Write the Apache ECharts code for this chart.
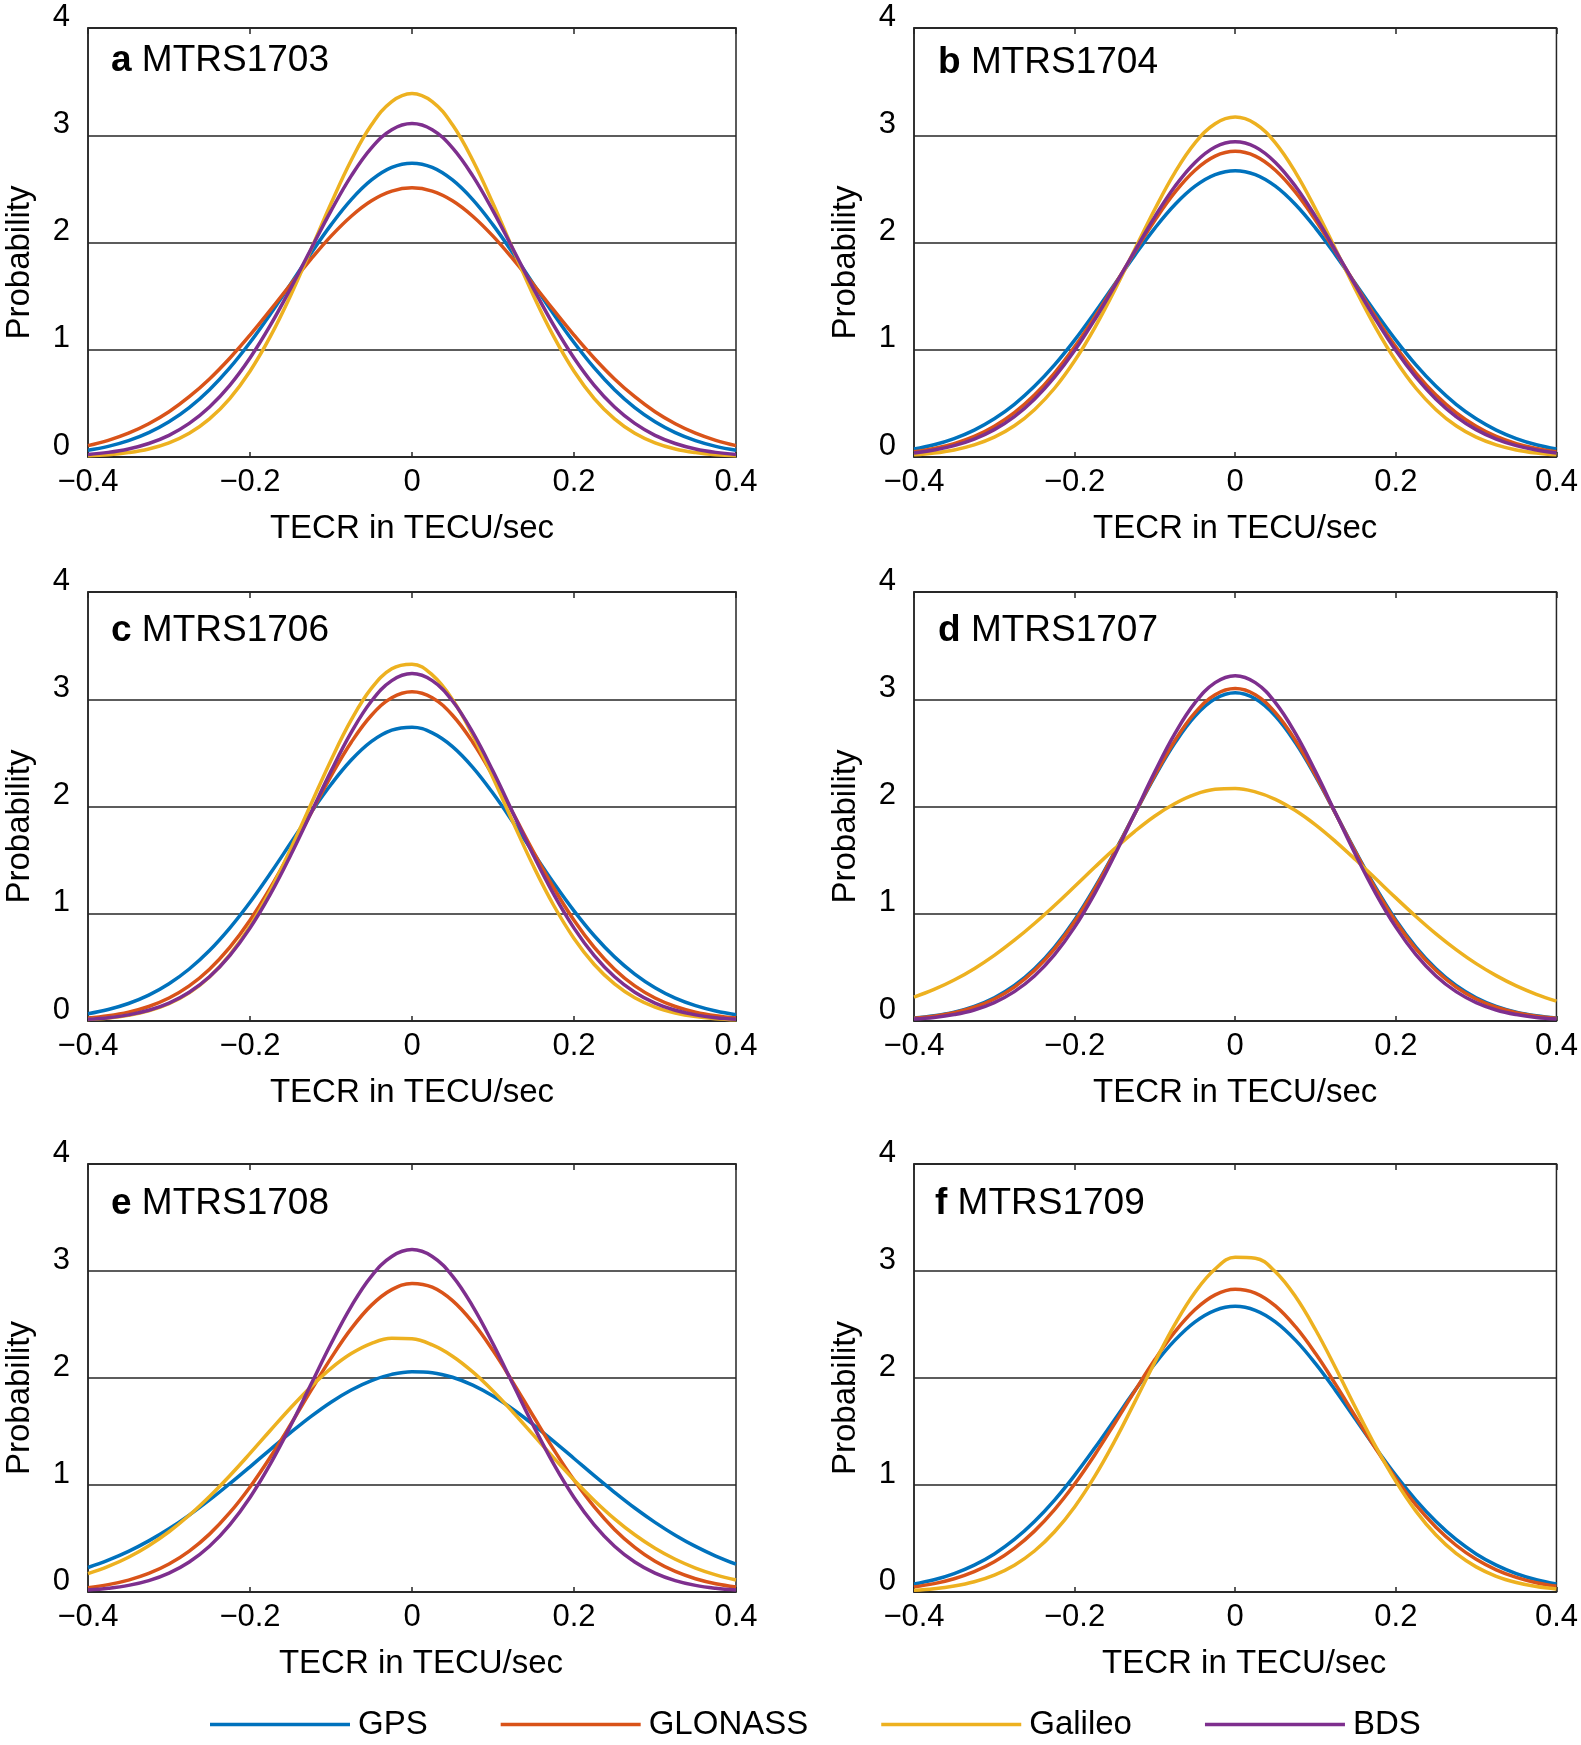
<!DOCTYPE html>
<html>
<head>
<meta charset="utf-8">
<title>TECR probability</title>
<style>
  html, body { margin: 0; padding: 0; background: #fff; }
  #chart { width: 1581px; height: 1745px; }
</style>
</head>
<body>
<div id="chart"></div>
<script src="https://cdn.jsdelivr.net/npm/echarts@6.0.0/dist/echarts.min.js"></script>
<script>
// points, x in TECU/sec (step 0.025)
var xValues = [-0.4, -0.375, -0.35, -0.325, -0.3, -0.275, -0.25, -0.225, -0.2, -0.175, -0.15, -0.125, -0.1, -0.075, -0.05, -0.025,
  0, 0.025, 0.05, 0.075, 0.1, 0.125, 0.15, 0.175, 0.2, 0.225, 0.25, 0.275, 0.3, 0.325, 0.35, 0.375, 0.4];
var xTickValues = [-0.4, -0.2, 0, 0.2, 0.4];
var xTickLabels = ['\u22120.4', '\u22120.2', '0', '0.2', '0.4'];
var yTickLabels = ['0', '1', '2', '3', '4'];
var systems = ['GPS', 'GLONASS', 'Galileo', 'BDS'];
var panelLetters = ['a', 'b', 'c', 'd', 'e', 'f'];
var panelNames = ['MTRS1703', 'MTRS1704', 'MTRS1706', 'MTRS1707', 'MTRS1708', 'MTRS1709'];

// a MTRS1703
var gpsA = [0.063, 0.099, 0.152, 0.227, 0.328, 0.460, 0.627, 0.830, 1.067, 1.331, 1.612, 1.895, 2.164, 2.400, 2.583, 2.700,
  2.74, 2.700, 2.583, 2.400, 2.164, 1.895, 1.612, 1.331, 1.067, 0.830, 0.627, 0.460, 0.328, 0.227, 0.152, 0.099, 0.063];
var glonassA = [0.106, 0.155, 0.222, 0.310, 0.422, 0.562, 0.728, 0.921, 1.137, 1.369, 1.608, 1.842, 2.059, 2.245, 2.389, 2.479,
  2.51, 2.479, 2.389, 2.245, 2.059, 1.842, 1.608, 1.369, 1.137, 0.921, 0.728, 0.562, 0.422, 0.310, 0.222, 0.155, 0.106];
var galileoA = [0.011, 0.021, 0.041, 0.075, 0.132, 0.221, 0.355, 0.545, 0.800, 1.122, 1.504, 1.929, 2.363, 2.767, 3.097, 3.314,
  3.39, 3.314, 3.097, 2.767, 2.363, 1.929, 1.504, 1.122, 0.800, 0.545, 0.355, 0.221, 0.132, 0.075, 0.041, 0.021, 0.011];
var bdsA = [0.024, 0.043, 0.075, 0.126, 0.202, 0.313, 0.466, 0.668, 0.923, 1.227, 1.570, 1.935, 2.295, 2.621, 2.883, 3.052,
  3.11, 3.052, 2.883, 2.621, 2.295, 1.935, 1.570, 1.227, 0.923, 0.668, 0.466, 0.313, 0.202, 0.126, 0.075, 0.043, 0.024];
// b MTRS1704
var gpsB = [0.074, 0.114, 0.172, 0.251, 0.356, 0.491, 0.659, 0.859, 1.090, 1.345, 1.613, 1.882, 2.134, 2.354, 2.525, 2.633,
  2.67, 2.633, 2.525, 2.354, 2.134, 1.882, 1.613, 1.345, 1.090, 0.859, 0.659, 0.491, 0.356, 0.251, 0.172, 0.114, 0.074];
var glonassB = [0.048, 0.079, 0.125, 0.192, 0.287, 0.414, 0.578, 0.783, 1.027, 1.305, 1.605, 1.913, 2.208, 2.469, 2.674, 2.805,
  2.85, 2.805, 2.674, 2.469, 2.208, 1.913, 1.605, 1.305, 1.027, 0.783, 0.578, 0.414, 0.287, 0.192, 0.125, 0.079, 0.048];
var galileoB = [0.020, 0.037, 0.066, 0.113, 0.185, 0.291, 0.441, 0.641, 0.897, 1.205, 1.558, 1.936, 2.312, 2.654, 2.929, 3.108,
  3.17, 3.108, 2.929, 2.654, 2.312, 1.936, 1.558, 1.205, 0.897, 0.641, 0.441, 0.291, 0.185, 0.113, 0.066, 0.037, 0.020];
var bdsB = [0.038, 0.065, 0.106, 0.167, 0.255, 0.377, 0.539, 0.744, 0.992, 1.280, 1.596, 1.923, 2.241, 2.524, 2.747, 2.891,
  2.94, 2.891, 2.747, 2.524, 2.241, 1.923, 1.596, 1.280, 0.992, 0.744, 0.539, 0.377, 0.255, 0.167, 0.106, 0.065, 0.038];
// c MTRS1706
var gpsC = [0.068, 0.107, 0.163, 0.241, 0.347, 0.485, 0.657, 0.866, 1.107, 1.375, 1.657, 1.940, 2.205, 2.433, 2.607, 2.712,
  2.740, 2.686, 2.558, 2.365, 2.123, 1.851, 1.566, 1.287, 1.027, 0.795, 0.598, 0.437, 0.310, 0.213, 0.143, 0.093, 0.058];
var glonassC = [0.027, 0.048, 0.082, 0.135, 0.214, 0.327, 0.483, 0.686, 0.939, 1.240, 1.577, 1.933, 2.283, 2.599, 2.851, 3.014,
  3.07, 3.014, 2.851, 2.599, 2.283, 1.933, 1.577, 1.240, 0.939, 0.686, 0.483, 0.327, 0.214, 0.135, 0.082, 0.048, 0.027];
var galileoC = [0.015, 0.028, 0.053, 0.094, 0.161, 0.263, 0.411, 0.617, 0.885, 1.217, 1.601, 2.016, 2.432, 2.807, 3.103, 3.284,
  3.327, 3.227, 2.997, 2.665, 2.268, 1.848, 1.442, 1.077, 0.770, 0.527, 0.346, 0.217, 0.130, 0.075, 0.041, 0.022, 0.011];
var bdsC = [0.017, 0.031, 0.057, 0.100, 0.167, 0.268, 0.412, 0.610, 0.866, 1.180, 1.543, 1.935, 2.330, 2.691, 2.984, 3.174,
  3.24, 3.174, 2.984, 2.691, 2.330, 1.935, 1.543, 1.180, 0.866, 0.610, 0.412, 0.268, 0.167, 0.100, 0.057, 0.031, 0.017];
// d MTRS1707
var gpsD = [0.028, 0.049, 0.083, 0.137, 0.217, 0.331, 0.487, 0.690, 0.943, 1.243, 1.579, 1.933, 2.280, 2.593, 2.843, 3.004,
  3.06, 3.004, 2.843, 2.593, 2.280, 1.933, 1.579, 1.243, 0.943, 0.690, 0.487, 0.331, 0.217, 0.137, 0.083, 0.049, 0.028];
var glonassD = [0.025, 0.044, 0.077, 0.128, 0.205, 0.316, 0.470, 0.672, 0.927, 1.230, 1.572, 1.934, 2.292, 2.616, 2.875, 3.042,
  3.10, 3.042, 2.875, 2.616, 2.292, 1.934, 1.572, 1.230, 0.927, 0.672, 0.470, 0.316, 0.205, 0.128, 0.077, 0.044, 0.025];
var galileoD = [0.222, 0.294, 0.382, 0.488, 0.612, 0.753, 0.909, 1.077, 1.254, 1.433, 1.607, 1.769, 1.912, 2.028, 2.113, 2.160,
  2.168, 2.136, 2.067, 1.962, 1.829, 1.673, 1.503, 1.326, 1.148, 0.975, 0.813, 0.666, 0.535, 0.423, 0.327, 0.249, 0.186];
var bdsD = [0.018, 0.033, 0.060, 0.103, 0.172, 0.274, 0.420, 0.619, 0.875, 1.188, 1.548, 1.936, 2.325, 2.681, 2.968, 3.155,
  3.22, 3.155, 2.968, 2.681, 2.325, 1.936, 1.548, 1.188, 0.875, 0.619, 0.420, 0.274, 0.172, 0.103, 0.060, 0.033, 0.018];
// e MTRS1708
var gpsE = [0.229, 0.298, 0.380, 0.478, 0.591, 0.719, 0.860, 1.012, 1.170, 1.331, 1.489, 1.639, 1.774, 1.888, 1.976, 2.034,
  2.059, 2.050, 2.007, 1.933, 1.831, 1.706, 1.563, 1.408, 1.248, 1.087, 0.932, 0.785, 0.651, 0.531, 0.426, 0.336, 0.260];
var glonassE = [0.041, 0.069, 0.111, 0.173, 0.261, 0.382, 0.541, 0.741, 0.982, 1.260, 1.564, 1.880, 2.186, 2.461, 2.681, 2.826,
  2.884, 2.849, 2.723, 2.519, 2.256, 1.955, 1.640, 1.331, 1.046, 0.795, 0.585, 0.417, 0.287, 0.192, 0.124, 0.077, 0.047];
var galileoE = [0.172, 0.239, 0.325, 0.433, 0.563, 0.717, 0.893, 1.087, 1.295, 1.509, 1.720, 1.917, 2.090, 2.228, 2.324, 2.371,
  2.366, 2.309, 2.204, 2.057, 1.879, 1.678, 1.466, 1.253, 1.047, 0.856, 0.684, 0.535, 0.409, 0.306, 0.224, 0.160, 0.112];
var bdsE = [0.019, 0.035, 0.062, 0.107, 0.177, 0.281, 0.428, 0.628, 0.884, 1.195, 1.552, 1.936, 2.320, 2.670, 2.953, 3.136,
  3.20, 3.136, 2.953, 2.670, 2.320, 1.936, 1.552, 1.195, 0.884, 0.628, 0.428, 0.281, 0.177, 0.107, 0.062, 0.035, 0.019];
// f MTRS1709 (no BDS curve)
var gpsF = [0.074, 0.114, 0.172, 0.251, 0.356, 0.491, 0.659, 0.859, 1.090, 1.345, 1.613, 1.882, 2.134, 2.354, 2.525, 2.633,
  2.67, 2.633, 2.525, 2.354, 2.134, 1.882, 1.613, 1.345, 1.090, 0.859, 0.659, 0.491, 0.356, 0.251, 0.172, 0.114, 0.074];
var glonassF = [0.048, 0.078, 0.124, 0.190, 0.283, 0.408, 0.569, 0.770, 1.009, 1.281, 1.577, 1.880, 2.173, 2.433, 2.640, 2.777,
  2.830, 2.794, 2.674, 2.479, 2.228, 1.940, 1.637, 1.339, 1.061, 0.814, 0.606, 0.437, 0.305, 0.207, 0.136, 0.086, 0.053];
var galileoF = [0.017, 0.031, 0.056, 0.096, 0.158, 0.251, 0.383, 0.563, 0.795, 1.080, 1.412, 1.777, 2.150, 2.503, 2.802, 3.019,
  3.129, 3.120, 2.993, 2.761, 2.451, 2.094, 1.720, 1.359, 1.034, 0.756, 0.532, 0.360, 0.235, 0.147, 0.089, 0.051, 0.029];

var panelSeries = [
  [gpsA, glonassA, galileoA, bdsA],
  [gpsB, glonassB, galileoB, bdsB],
  [gpsC, glonassC, galileoC, bdsC],
  [gpsD, glonassD, galileoD, bdsD],
  [gpsE, glonassE, galileoE, bdsE],
  [gpsF, glonassF, galileoF]
];

var colors = ['#0072BD', '#D95319', '#EDB120', '#7E2F8E'];
var ink = '#262626';
var font = '"Liberation Sans", Arial, Helvetica, sans-serif';

// panel boxes in px
var boxes = [
  {left: 88, top: 28, width: 648, height: 429},
  {left: 914, top: 28, width: 649, height: 429},
  {left: 88, top: 592, width: 648, height: 429},
  {left: 914, top: 592, width: 649, height: 429},
  {left: 88, top: 1164, width: 648, height: 428},
  {left: 914, top: 1164, width: 649, height: 428}
];
var titleTops = [42, 44, 612, 612, 1185, 1185];
var titleLefts = [111, 938, 111, 938, 111, 935];

var grids = [], xAxes = [], yAxes = [], series = [], titles = [];

boxes.forEach(function (b, i) {
  grids.push({
    left: b.left, top: b.top, width: b.width, height: b.height,
    show: true, borderColor: ink, borderWidth: 1.5, backgroundColor: '#fff'
  });
  var bottomRow = i >= 4;
  xAxes.push({
    type: 'value', gridIndex: i, position: 'bottom',
    min: -0.4, max: 0.4, interval: 0.2,
    name: 'TECR in TECU/sec', nameLocation: 'middle', nameGap: 55,
    nameTextStyle: {fontSize: 33, color: '#000', fontFamily: font, lineHeight: 33,
      padding: bottomRow ? [0, 0, 0, 18] : 0},
    axisLine: {show: true, onZero: false, lineStyle: {color: ink, width: 1.5}},
    axisTick: {show: true, inside: true, length: 5, lineStyle: {color: ink, width: 1.5}},
    axisLabel: {
      fontSize: 31, color: '#000', fontFamily: font, margin: 10, lineHeight: 31,
      formatter: function (v) {
        var k = xTickValues.findIndex(function (t) { return Math.abs(t - v) < 1e-6; });
        return k < 0 ? '' : xTickLabels[k];
      }
    },
    splitLine: {show: false}
  });
  xAxes.push({
    type: 'value', gridIndex: i, position: 'top',
    min: -0.4, max: 0.4, interval: 0.2,
    axisLine: {show: true, onZero: false, lineStyle: {color: ink, width: 1.5}},
    axisTick: {show: true, inside: true, length: 6, lineStyle: {color: ink, width: 1.5}},
    axisLabel: {show: false},
    splitLine: {show: false}
  });
  yAxes.push({
    type: 'value', gridIndex: i,
    min: 0, max: 4, interval: 1,
    name: 'Probability', nameLocation: 'middle', nameGap: 52,
    nameTextStyle: {fontSize: 33, color: '#000', fontFamily: font, lineHeight: 33, padding: [0, 40, 0, 0]},
    axisLine: {show: true, onZero: false, lineStyle: {color: ink, width: 1.5}},
    axisTick: {show: false},
    axisLabel: {
      fontSize: 31, color: '#000', fontFamily: font, margin: 18,
      verticalAlign: 'bottom', lineHeight: 22,
      formatter: function (v) { return yTickLabels[Math.round(v)]; }
    },
    splitLine: {show: true, lineStyle: {color: ink, width: 1.5}}
  });
  titles.push({
    text: '{l|' + panelLetters[i] + '} ' + panelNames[i],
    left: titleLefts[i], top: titleTops[i], padding: 0,
    textStyle: {
      fontSize: 37, fontWeight: 'normal', color: '#000', fontFamily: font, lineHeight: 37,
      rich: {l: {fontSize: 37, fontWeight: 'bold', color: '#000', fontFamily: font, lineHeight: 37}}
    }
  });
  panelSeries[i].forEach(function (vals, j) {
    series.push({
      type: 'line', name: systems[j],
      xAxisIndex: 2 * i, yAxisIndex: i,
      data: xValues.map(function (x, k) { return [x, vals[k]]; }),
      smooth: 0.4, showSymbol: false, silent: true,
      lineStyle: {width: 3.5, color: colors[j]},
      itemStyle: {color: colors[j]}
    });
  });
});

var chart = echarts.init(document.getElementById('chart'));
chart.setOption({
  animation: false,
  backgroundColor: '#fff',
  title: titles,
  grid: grids,
  xAxis: xAxes,
  yAxis: yAxes,
  legend: {
    data: systems, left: 205, top: 1703,
    icon: 'rect', itemWidth: 140, itemHeight: 3.5, itemGap: 73,
    textStyle: {fontSize: 33, color: '#000', fontFamily: font, lineHeight: 33, padding: [0, 0, 0, 3]}
  },
  series: series
});
</script>
</body>
</html>
